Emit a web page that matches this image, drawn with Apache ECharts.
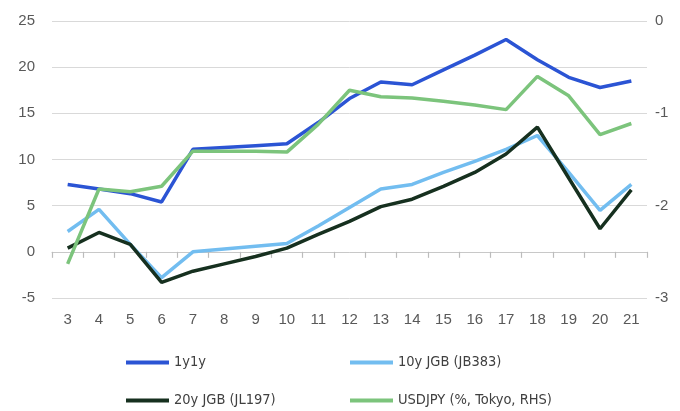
<!DOCTYPE html>
<html>
<head>
<meta charset="utf-8">
<script src="https://cdn.jsdelivr.net/npm/echarts@6/dist/echarts.min.js"></script>
<style>
  html,body{margin:0;padding:0;background:#fff;}
  #chart{width:680px;height:411px;}
</style>
</head>
<body>
<div id="chart"></div>
<script>
var categories = ['3','4','5','6','7','8','9','10','11','12','13','14','15','16','17','18','19','20','21'];
var oneYOneY = [7.3, 6.8, 6.3, 5.4, 11.1, 11.3, 11.5, 11.7, 14.0, 16.6, 18.4, 18.1, 19.7, 21.3, 23.0, 20.8, 18.9, 17.8, 18.5];
var jgb10y = [2.2, 4.6, 0.8, -2.8, 0.0, 0.3, 0.6, 0.9, 2.8, 4.8, 6.8, 7.3, 8.6, 9.8, 11.1, 12.6, 8.6, 4.5, 7.3];
var jgb20y = [0.4, 2.1, 0.8, -3.3, -2.1, -1.3, -0.5, 0.4, 1.9, 3.3, 4.9, 5.7, 7.1, 8.6, 10.6, 13.5, 8.0, 2.5, 6.7];
var usdjpy = [-2.63, -1.82, -1.85, -1.79, -1.41, -1.41, -1.41, -1.42, -1.12, -0.75, -0.82, -0.835, -0.87, -0.91, -0.96, -0.60, -0.81, -1.23, -1.11];
var leftTicks = {min: -5, max: 25, interval: 5};
var rightTicks = {min: -3, max: 0, interval: 1};
var names = ['1y1y', '10y JGB (JB383)', '20y JGB (JL197)', 'USDJPY (%, Tokyo, RHS)'];

var chart = echarts.init(document.getElementById('chart'));
var labelFont = {color: '#595959', fontSize: 15, fontFamily: 'Liberation Sans, Arial, sans-serif'};
var legendFont = {color: '#404040', fontSize: 14.5, fontFamily: '"DejaVu Sans Condensed", "Liberation Sans Narrow", sans-serif'};

// grid box
var gridTop = 21, gridBottom = 113, chartH = 411;
var plotH = chartH - gridTop - gridBottom;
// distance from the bottom edge up to the zero line of the left axis
var zeroLift = plotH * (0 - leftTicks.min) / (leftTicks.max - leftTicks.min);

function line(name, data, color, yIdx){
	return {
		name: name,
		type: 'line',
		data: data,
		yAxisIndex: yIdx,
		symbol: 'none',
		lineStyle: {width: 3.5, color: color},
		itemStyle: {color: color},
		z: 3
	};
}
function legendItem(name, left, top){
	return {
		left: left, top: top, padding: 0,
		itemWidth: 43, itemHeight: 4, icon: 'rect', itemGap: 4,
		textStyle: legendFont,
		data: [name]
	};
}

var option = {
	animation: false,
	backgroundColor: '#fff',
	grid: {left: 52, right: 33, top: gridTop, bottom: gridBottom},
	legend: [
		legendItem(names[0], 126, 355),
		legendItem(names[1], 350, 355),
		legendItem(names[2], 126, 393),
		legendItem(names[3], 350, 393)
	],
	xAxis: {
		type: 'category',
		data: categories,
		boundaryGap: true,
		position: 'bottom',
		// onZero does not move it here, so lift it to the zero line by hand
		offset: -zeroLift,
		axisLine: {show: true, onZero: false, lineStyle: {color: '#c8c8c8', width: 1}},
		axisTick: {show: true, interval: 0, length: 6, lineStyle: {color: '#bcbcbc', width: 1.2}},
		axisLabel: Object.assign({margin: zeroLift + 14}, labelFont)
	},
	yAxis: [
		{
			type: 'value',
			min: leftTicks.min, max: leftTicks.max, interval: leftTicks.interval,
			axisLine: {show: false},
			axisTick: {show: false},
			splitLine: {lineStyle: {color: '#d9d9d9', width: 1}},
			axisLabel: Object.assign({margin: 17}, labelFont)
		},
		{
			type: 'value',
			min: rightTicks.min, max: rightTicks.max, interval: rightTicks.interval,
			axisLine: {show: false},
			axisTick: {show: false},
			splitLine: {show: false},
			axisLabel: Object.assign({margin: 8}, labelFont)
		}
	],
	series: [
		line(names[0], oneYOneY, '#2b54d4', 0),
		line(names[1], jgb10y, '#72bdf0', 0),
		line(names[2], jgb20y, '#16301f', 0),
		line(names[3], usdjpy, '#7cc47c', 1)
	]
};
chart.setOption(option);
</script>
</body>
</html>
